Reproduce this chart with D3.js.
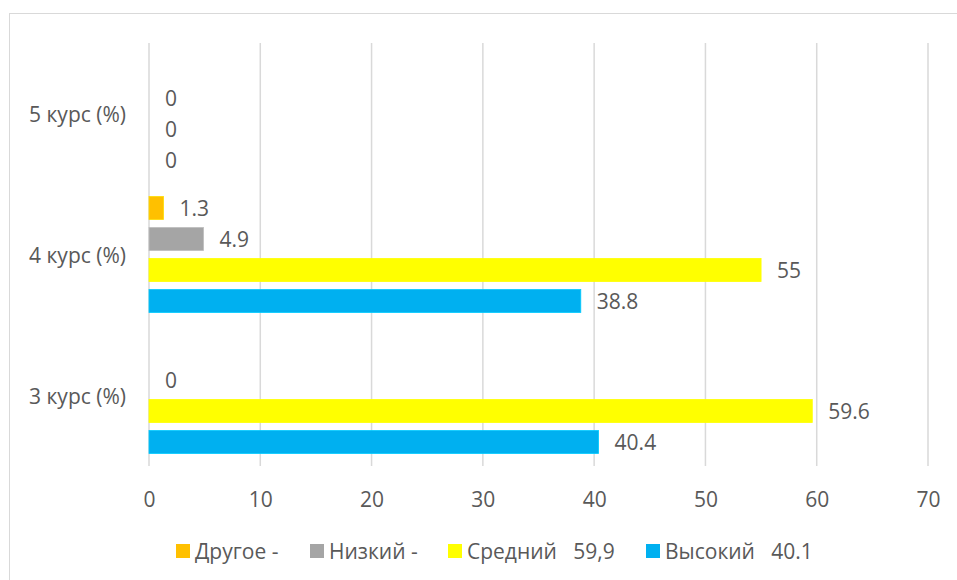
<!DOCTYPE html>
<html>
<head>
<meta charset="utf-8">
<script src="https://cdn.jsdelivr.net/npm/d3@7"></script>
<style>
  body { margin: 0; background: #fff; }
  text { font-family: "Open Sans", "Noto Sans", sans-serif; fill: #595959; }
</style>
</head>
<body>
<svg id="chart" width="957" height="580"></svg>
<script>
// ============= Data =============
const categories = ['3 курс (%)', '4 курс (%)', '5 курс (%)'];
const seriesNames = ['Высокий', 'Средний', 'Низкий', 'Другое'];
const seriesColors = ['#00B0F0', '#FFFF00', '#A5A5A5', '#FFC000'];
const legendLabels = ['Другое -', 'Низкий -', 'Средний   59,9', 'Высокий   40.1'];
const legendOrder = [3, 2, 1, 0];
// one array per series, in category order; null = no bar and no label
const vysokiy = [40.4, 38.8, 0];
const sredniy = [59.6, 55, 0];
const nizkiy = [0, 4.9, 0];
const drugoe = [null, 1.3, null];
const seriesValues = [vysokiy, sredniy, nizkiy, drugoe];
const xTicks = [0, 10, 20, 30, 40, 50, 60, 70];

const fontSize = '21px';

// ============= Layout =============
const svg = d3.select('#chart');

// outer chart frame
svg.append('rect')
  .attr('x', 9.5).attr('y', 13.5)
  .attr('width', 960).attr('height', 600)
  .attr('fill', 'none')
  .attr('stroke', '#d9d9d9');

const plotTop = 43, plotBottom = 466;

const x = d3.scaleLinear().domain([0, 70]).range([149, 928]);

// categories go bottom to top
const y = d3.scaleBand()
  .domain(categories.slice().reverse())
  .range([plotTop, plotBottom]);

// series inside a band, Высокий at the bottom
const inner = d3.scaleBand()
  .domain(seriesNames.slice().reverse())
  .range([0, y.bandwidth()])
  .paddingInner(0.258)
  .paddingOuter(0.403);

// ------------ Gridlines ------------
svg.append('g')
  .selectAll('line')
  .data(xTicks)
  .join('line')
    .attr('x1', d => x(d)).attr('x2', d => x(d))
    .attr('y1', plotTop).attr('y2', plotBottom)
    .attr('stroke', '#d9d9d9')
    .attr('stroke-width', 1.5);

// ------------ X axis labels ------------
const xAxis = svg.append('g')
  .attr('transform', 'translate(0,' + plotBottom + ')')
  .call(d3.axisBottom(x).tickValues(xTicks).tickSize(0).tickPadding(26));
xAxis.select('.domain').remove();
xAxis.selectAll('text')
  .style('font-size', fontSize)
  .style('font-family', '"Open Sans", sans-serif')
  .attr('fill', '#595959');

// ------------ Category labels ------------
svg.append('g')
  .selectAll('text')
  .data(categories)
  .join('text')
    .attr('x', 126)
    .attr('y', d => y(d) + y.bandwidth() / 2)
    .attr('text-anchor', 'end')
    .attr('dominant-baseline', 'central')
    .style('font-size', fontSize)
    .text(d => d);

// ------------ Bars ------------
const barData = [];
seriesNames.forEach((s, si) => {
  categories.forEach((c, ci) => {
    const v = seriesValues[si][ci];
    if (v !== null) barData.push({series: s, color: seriesColors[si], cat: c, value: v});
  });
});

const bars = svg.append('g');

bars.selectAll('rect')
  .data(barData.filter(d => d.value > 0))
  .join('rect')
    .attr('x', x(0))
    .attr('y', d => y(d.cat) + inner(d.series))
    .attr('width', d => x(d.value) - x(0))
    .attr('height', inner.bandwidth())
    .attr('fill', d => d.color)
    .attr('stroke', d => d3.color(d.color).brighter(0.4))
    .attr('stroke-width', 0.8);

bars.selectAll('text')
  .data(barData)
  .join('text')
    .attr('x', d => x(d.value) + 16)
    .attr('y', d => y(d.cat) + inner(d.series) + inner.bandwidth() / 2)
    .attr('dominant-baseline', 'central')
    .style('font-size', fontSize)
    .attr('fill', '#404040')
    .text(d => d3.format('')(d.value));

// ------------ Legend ------------
const legendX = [176, 310, 448, 646];
const legend = svg.append('g');
const items = legend.selectAll('g')
  .data(legendOrder)
  .join('g')
    .attr('transform', (d, i) => 'translate(' + legendX[i] + ',544)');

items.append('rect')
  .attr('width', 14).attr('height', 14)
  .attr('fill', d => seriesColors[d]);

items.append('text')
  .attr('x', 19).attr('y', 7)
  .attr('dominant-baseline', 'central')
  .style('font-size', fontSize)
  .style('white-space', 'pre')
  .text((d, i) => legendLabels[i]);
</script>
</body>
</html>
